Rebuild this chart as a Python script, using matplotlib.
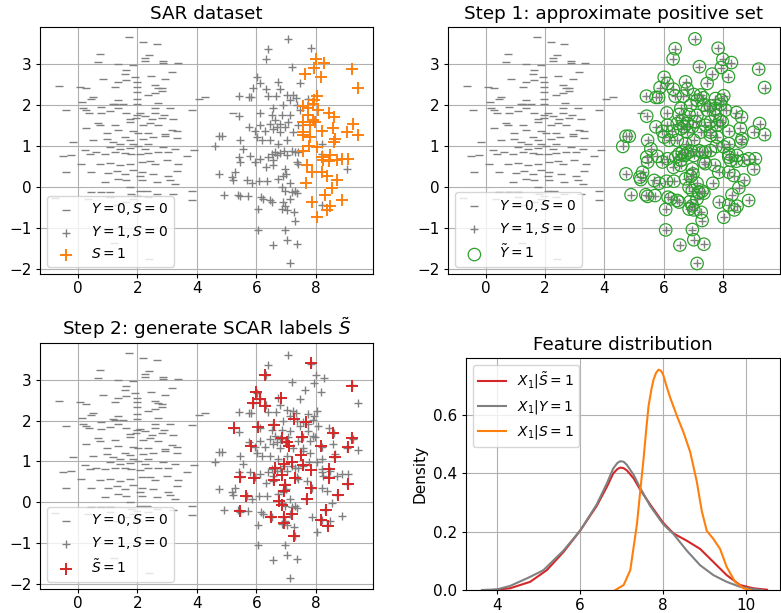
import numpy as np
import matplotlib
matplotlib.use("Agg")
import matplotlib.pyplot as plt

# ---------------- data ----------------
neg_x = [1.72, 2.20, 2.65, 0.73, 2.40, 2.25, 2.25, 0.68, 1.35, 1.85, 2.87, 2.87, 3.36, 3.16,
         1.63, 1.58, 1.92, 2.45, 2.93, 0.85, 1.61, 1.97, 1.35, 2.59, 1.97, 1.24, 2.70, 2.82,
         -0.64, 0.06, 0.26, 1.97, 2.82, 2.59, 2.37, 0.51, 0.43, 1.97, 1.35, 4.28, 4.06, 0.15,
         1.18, 1.24, 1.52, 1.97, 2.68, -0.42, 0.17, 0.28, 0.79, 1.35, 0.79, 0.37, 1.07, 1.63,
         2.08, 2.59, 2.59, 3.10, 2.90, 3.83, 1.97, 2.25, 1.75, 1.95, 2.82, 0.68, 0.28, 1.24,
         0.73, 1.75, 2.48, 2.42, 2.20, 2.70, 3.21, 3.16, 3.32, 0.96, 1.35, 1.86, 2.03, 2.37,
         2.93, -0.17, 0.51, 0.96, 1.18, 1.58, 1.75, 2.20, 2.51, 2.93, 3.32, 1.41, 1.86, 2.37,
         5.23,
         1.07, 1.41, 1.75, 2.03, 2.25, 2.87, 3.27, 0.23, -0.23, -0.51, 0.39, 0.62, 0.90, 1.24,
         1.58, 1.80, 2.08, 2.37, 2.70, 3.04, 3.89, 3.66, 0.11, 0.73, 1.07, 1.41, 1.75, 2.14,
         2.42, 2.59, 2.99, 3.38, -0.39, 0.45, 1.01, 1.30, 1.58, 1.86, 2.14, 2.08, 2.54, 3.32,
         3.04, 3.10, 0.90, 1.35, 1.63, 2.14, 2.65, 3.27, 1.75, 2.31, 2.08, 3.83, 0.45, 0.79,
         1.07, 1.80, 1.97, 2.65, 3.21, -0.79, 0.34, 1.07, 1.86, 2.37, 3.83, 1.63, 1.97, 1.30,
         1.21, 2.39]
neg_y = [3.66, 3.54, 3.49, 3.25, 3.23, 3.15, 3.07, 3.05, 3.00, 2.97, 3.07, 3.02, 3.02, 2.80,
         2.86, 2.75, 2.68, 2.71, 2.63, 2.64, 2.61, 2.57, 2.56, 2.49, 2.45, 2.45, 2.43, 2.41,
         2.48, 2.45, 2.41, 2.33, 2.34, 2.29, 2.25, 2.20, 2.15, 2.16, 2.12, 2.20, 2.15, 2.07,
         2.04, 2.02, 2.02, 2.04, 2.06, 1.87, 1.92, 1.88, 1.96, 1.93, 1.80, 1.81, 1.85, 1.82,
         1.80, 1.92, 1.82, 1.93, 1.77, 1.89, 1.77, 1.74, 1.67, 1.69, 1.69, 1.57, 1.44, 1.52,
         1.51, 1.59, 1.65, 1.57, 1.52, 1.51, 1.65, 1.40, 1.36, 1.33, 1.39, 1.36, 1.33, 1.33,
         1.30, 1.10, 1.14, 1.18, 1.11, 1.22, 1.16, 1.18, 1.22, 1.25, 1.20, 1.06, 1.06, 1.06,
         1.81,
         0.98, 0.93, 0.96, 1.00, 0.93, 0.98, 0.93, 0.91, 0.77, 0.75, 0.81, 0.85, 0.81, 0.85,
         0.83, 0.81, 0.80, 0.83, 0.85, 0.85, 0.91, 0.75, 0.57, 0.55, 0.58, 0.53, 0.57, 0.61,
         0.63, 0.55, 0.65, 0.55, 0.36, 0.36, 0.34, 0.39, 0.32, 0.42, 0.36, 0.26, 0.32, 0.39,
         0.26, 0.18, 0.12, 0.20, 0.16, 0.16, 0.12, 0.08, 0.01, -0.09, -0.09, -0.09, -0.13, -0.13,
         -0.13, -0.17, -0.21, -0.17, -0.18, -0.27, -0.29, -0.25, -0.29, -0.25, -0.31, -0.36, -0.41, -0.45,
         -1.38, -1.75]

# Y = 1, S = 0
pos0_x = [7.06, 6.39, 6.32, 7.84, 7.21, 6.02, 6.13, 5.88, 6.33, 6.74, 6.80, 7.47, 5.42, 5.74,
          5.83, 6.39, 6.67, 7.02, 7.25, 7.34, 7.13, 6.91, 6.58, 6.52, 6.11, 5.43, 6.86, 7.13,
          7.36, 7.47, 7.75, 5.74, 5.96, 6.13, 6.46, 6.63, 6.80, 6.97, 7.08, 6.69, 6.30, 6.02,
          7.25, 7.41, 4.73, 4.84, 5.46, 6.18, 6.46, 7.02, 8.20, 6.80, 6.58,
          4.62, 6.74, 5.57, 5.43, 5.79, 5.46, 5.96, 6.13, 6.41, 6.52, 6.63, 6.71, 6.80, 6.93,
          7.02, 7.19, 7.30, 7.41, 7.36, 7.41, 6.58, 6.33, 6.58, 6.97, 6.99, 6.91, 8.20, 9.04,
          4.73, 5.29, 5.20, 5.23, 5.68, 5.85, 6.10, 6.35, 6.74, 6.86, 6.97, 7.13, 7.19, 7.30,
          7.36, 4.90, 5.40, 5.46, 5.71, 6.15, 6.24, 6.46, 6.52, 6.89, 7.13, 6.97, 6.86, 7.02,
          6.07, 7.27, 7.30, 8.20, 6.07, 6.97, 7.02, 7.36, 6.55, 7.13]
pos0_y = [3.62, 3.38, 3.13, 3.39, 2.94, 2.68, 2.53, 2.43, 2.39, 2.57, 2.39, 2.53, 2.22, 2.19,
          2.19, 2.22, 2.22, 2.26, 2.25, 2.18, 2.12, 2.00, 1.92, 1.77, 1.81, 1.73, 1.77, 1.75,
          2.00, 1.88, 2.16, 1.47, 1.36, 1.51, 1.55, 1.63, 1.55, 1.47, 1.59, 1.47, 1.36, 1.22,
          1.34, 1.51, 1.24, 1.24, 1.14, 1.14, 1.14, 1.14, 1.06, 1.34, 1.42,
          0.99, 1.06, 0.93, 0.73, 0.75, 0.61, 0.61, 0.69, 0.73, 0.81, 0.85, 0.77, 0.83, 0.88,
          0.77, 0.89, 0.85, 0.85, 0.61, 0.57, 0.65, 0.48, 0.53, 0.44, 0.32, 0.26, 0.81, 0.44,
          0.32, 0.36, 0.24, 0.18, 0.16, 0.09, 0.14, 0.14, 0.20, -0.01, -0.09, 0.09, -0.13, -0.10,
          -0.15, -0.19, -0.19, -0.23, -0.21, -0.25, -0.29, -0.33, -0.37, -0.36, -0.29, -0.46, -0.54, -0.56,
          -0.55, -0.62, -0.82, -0.44, -1.05, -1.04, -1.29, -1.40, -1.42, -1.87]

# S = 1
pos1_x = [8.00, 8.29, 7.95, 7.64, 8.19, 9.21, 9.41, 8.03, 7.95, 7.92, 7.58, 7.75, 8.09, 7.75,
          7.58, 7.90, 7.98, 7.81, 8.46, 8.63, 9.24, 9.04, 9.41, 8.59, 8.20, 7.58, 7.58, 7.81,
          8.65,
          7.58, 7.77, 8.03, 8.61, 8.20, 8.48, 8.46, 8.71, 8.87, 9.10, 8.26, 7.72, 7.86, 8.20,
          8.37, 8.71, 7.66, 8.54, 8.31, 7.88, 8.87, 8.48, 8.39, 8.03]
pos1_y = [3.12, 3.04, 2.92, 2.76, 2.70, 2.88, 2.43, 2.23, 2.12, 2.02, 1.98, 1.92, 1.88, 1.75,
          1.59, 1.63, 1.59, 1.51, 1.82, 1.71, 1.55, 1.34, 1.28, 1.43, 1.36, 1.34, 1.26, 1.22,
          1.18,
          0.89, 0.99, 0.98, 1.10, 0.73, 0.77, 0.63, 0.65, 0.69, 0.69, 0.65, 0.53, 0.36, 0.36,
          0.28, 0.17, 0.09, -0.02, -0.19, -0.37, -0.33, -0.47, -0.56, -0.74]

# S~ = 1 (SCAR labels)
scar_x = [7.84, 6.31, 9.22, 6.00, 6.11, 5.89, 6.31, 6.82, 5.24, 6.06, 6.59, 7.27, 7.69, 8.60,
          9.22, 9.08, 7.55, 6.87, 7.02, 7.10, 5.83, 8.18, 7.50, 8.65,
          6.62, 6.94, 7.19, 7.58, 7.84, 8.46, 8.46, 9.08, 5.44, 5.92, 6.60, 6.87, 7.30, 6.97,
          7.84, 6.92, 5.66, 6.76, 6.87, 7.21, 7.72, 8.75, 8.34, 5.44, 6.49, 6.92, 6.92, 8.18,
          8.43, 7.27]
scar_y = [3.41, 3.13, 2.86, 2.70, 2.53, 2.43, 2.37, 2.57, 1.82, 1.84, 1.90, 2.04, 1.96, 1.71,
          1.57, 1.36, 1.61, 1.57, 1.49, 1.39, 1.39, 1.39, 1.16, 1.10,
          0.85, 0.95, 0.98, 0.92, 0.79, 0.81, 0.59, 0.44, 0.61, 0.59, 0.54, 0.67, 0.59, 0.43,
          0.34, 0.28, 0.14, 0.03, -0.07, -0.28, 0.07, 0.18, -0.20, -0.21, -0.36, -0.36, -0.50, -0.44,
          -0.58, -0.83]

# density curves (feature distribution)
kde_red_x = [3.9, 4.32, 4.8, 5.2, 5.6, 6.0, 6.4, 6.65, 6.8, 6.9, 6.97, 7.05, 7.13, 7.29, 7.45,
             7.69, 8.0, 8.25, 8.57, 8.89, 9.21, 9.53, 9.85, 10.17, 10.5]
kde_red_y = [0.0, 0.006, 0.028, 0.068, 0.13, 0.203, 0.288, 0.355, 0.40, 0.415, 0.42, 0.418, 0.41,
             0.383, 0.344, 0.293, 0.231, 0.194, 0.169, 0.141, 0.096, 0.051, 0.017, 0.006, 0.001]
kde_gray_x = [3.64, 4.0, 4.32, 4.8, 5.12, 5.6, 6.0, 6.4, 6.65, 6.8, 6.9, 6.97, 7.05, 7.13, 7.29,
              7.45, 7.69, 8.0, 8.25, 8.57, 8.89, 9.21, 9.53, 9.85, 10.17, 10.4]
kde_gray_y = [0.0, 0.002, 0.014, 0.045, 0.068, 0.135, 0.203, 0.293, 0.367, 0.417, 0.436, 0.442,
              0.44, 0.429, 0.395, 0.35, 0.288, 0.226, 0.192, 0.135, 0.085, 0.051, 0.028, 0.011,
              0.003, 0.0]
kde_orange_x = [6.85, 7.05, 7.21, 7.37, 7.45, 7.53, 7.6, 7.65, 7.72, 7.77, 7.83, 7.89, 7.95, 8.0,
                8.08, 8.17, 8.33, 8.49, 8.65, 8.81, 8.93, 9.05, 9.21, 9.37, 9.53, 9.73, 9.93, 10.1]
kde_orange_y = [0.0, 0.017, 0.068, 0.226, 0.34, 0.451, 0.56, 0.632, 0.69, 0.722, 0.745, 0.756,
                0.752, 0.739, 0.70, 0.66, 0.598, 0.541, 0.474, 0.372, 0.271, 0.203, 0.175, 0.141,
                0.079, 0.028, 0.006, 0.0]

# ---------------- figure ----------------
plt.rcParams['font.family'] = ['DejaVu Sans']
plt.rcParams['font.size'] = 11
plt.rcParams['legend.fontsize'] = 10
plt.rcParams['xtick.major.size'] = 3.2
plt.rcParams['ytick.major.size'] = 3.2
plt.rcParams['xtick.major.pad'] = 2.2
plt.rcParams['ytick.major.pad'] = 3.0
fig = plt.figure(figsize=(7.81, 6.13), dpi=100)
W, H = 781.0, 613.0

def axes_px(l, t, r, b):
    return fig.add_axes([l / W, 1 - b / H, (r - l) / W, (b - t) / H])

ax1 = axes_px(40, 27, 373, 273.7)
ax2 = axes_px(448, 27, 780, 273.7)
ax3 = axes_px(40, 343, 373, 588.5)
ax4 = axes_px(465.7, 358.3, 779.5, 590)

GRAY = 'gray'
pos_all_x = pos0_x + pos1_x
pos_all_y = pos0_y + pos1_y

def base(ax):
    ax.grid(True)
    ax.set_xlim(-1.28, 9.93)
    ax.set_ylim(-2.12, 3.91)
    ax.set_xticks([0, 2, 4, 6, 8])
    ax.set_yticks([-2, -1, 0, 1, 2, 3])

kw_neg = dict(marker='_', color=GRAY, s=36, linewidths=1.0, zorder=2)
kw_pos = dict(marker='+', color=GRAY, s=36, linewidths=1.0, zorder=2)
TITLE = 13.2

# Panel 1
base(ax1)
ax1.scatter(neg_x, neg_y, label=r'$Y=0, S=0$', **kw_neg)
ax1.scatter(pos0_x, pos0_y, label=r'$Y=1, S=0$', **kw_pos)
ax1.scatter(pos1_x, pos1_y, marker='+', color='tab:orange', s=64, linewidths=1.4,
            label=r'$S=1$', zorder=3)
ax1.set_title('SAR dataset', fontsize=TITLE)
ax1.legend(loc='lower left')

# Panel 2
base(ax2)
ax2.scatter(neg_x, neg_y, label=r'$Y=0, S=0$', **kw_neg)
ax2.scatter(pos_all_x, pos_all_y, label=r'$Y=1, S=0$', **kw_pos)
ax2.scatter(pos_all_x, pos_all_y, marker='o', facecolors='none', edgecolors='tab:green',
            s=80, linewidths=0.9, label=r'$\tilde{Y}=1$', zorder=3)
ax2.set_title('Step 1: approximate positive set', fontsize=TITLE)
ax2.legend(loc='lower left')

# Panel 3
base(ax3)
ax3.scatter(neg_x, neg_y, label=r'$Y=0, S=0$', **kw_neg)
ax3.scatter(pos_all_x, pos_all_y, label=r'$Y=1, S=0$', **kw_pos)
ax3.scatter(scar_x, scar_y, marker='+', color='tab:red', s=64, linewidths=1.4,
            label=r'$\tilde{S}=1$', zorder=3)
ax3.set_title(r'Step 2: generate SCAR labels $\tilde{S}$', fontsize=TITLE)
ax3.legend(loc='lower left')

# Panel 4
ax4.grid(True)
ax4.plot(kde_red_x, kde_red_y, color='tab:red', lw=1.5, label=r'$X_1|\tilde{S}=1$')
ax4.plot(kde_gray_x, kde_gray_y, color=GRAY, lw=1.5, label=r'$X_1|Y=1$')
ax4.plot(kde_orange_x, kde_orange_y, color='tab:orange', lw=1.5, label=r'$X_1|S=1$')
ax4.set_xlim(3.25, 10.8)
ax4.set_ylim(0, 0.795)
ax4.set_xticks([4, 6, 8, 10])
ax4.set_yticks([0.0, 0.2, 0.4, 0.6])
ax4.set_ylabel('Density')
ax4.set_title('Feature distribution', fontsize=TITLE)
ax4.legend(loc='upper left')

fig.savefig('out.png', dpi=100)
